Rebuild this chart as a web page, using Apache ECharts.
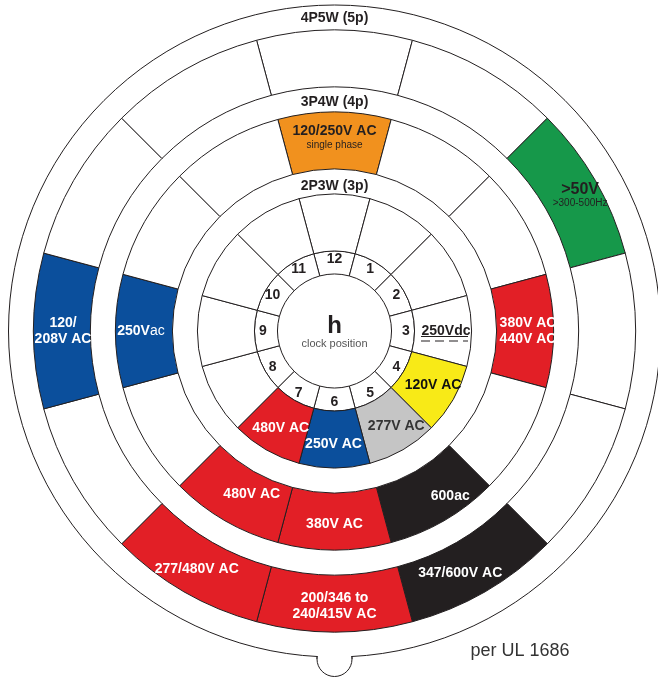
<!DOCTYPE html>
<html>
<head>
<meta charset="utf-8">
<script src="https://cdn.jsdelivr.net/npm/echarts@6/dist/echarts.min.js"></script>
<style>
html, body { margin: 0; padding: 0; background: #fff; }
#chart { width: 658px; height: 677px; }
</style>
</head>
<body>
<div id="chart"></div>
<script>
// clock positions, 12 o'clock first, going clockwise
var clockPositions = ['12', '1', '2', '3', '4', '5', '6', '7', '8', '9', '10', '11'];
var sectorShare = [1, 1, 1, 1, 1, 1, 1, 1, 1, 1, 1, 1];

// 2P3W (3p)
var ring2P3W = ['', '', '', '250Vdc', '120V AC', '277V AC', '250V AC', '480V AC', '', '', '', ''];
var ring2P3WClass = ['none', 'none', 'none', 'none', 'v120', 'v277', 'v250', 'v480', 'none', 'none', 'none', 'none'];

// 3P4W (4p)
var ring3P4W = ['120/250V AC\nsingle phase', '', '', '380V AC\n440V AC', '', '600ac', '380V AC', '480V AC', '', '250Vac', '', ''];
var ring3P4WClass = ['split', 'none', 'none', 'v480', 'none', 'v600', 'v480', 'v480', 'none', 'v250', 'none', 'none'];

// 4P5W (5p)
var ring4P5W = ['', '', '>50V\n>300-500Hz', '', '', '347/600V AC', '200/346 to\n240/415V AC', '277/480V AC', '', '120/\n208V AC', '', ''];
var ring4P5WClass = ['none', 'none', 'hf', 'none', 'none', 'v600', 'v480', 'v480', 'none', 'v250', 'none', 'none'];

var ringTitles = ['2P3W (3p)', '3P4W (4p)', '4P5W (5p)'];

var fill = {
    none: '#ffffff',
    v120: '#f8ea17',
    v250: '#0b4f9c',
    v277: '#c5c5c5',
    v480: '#e21f26',
    v600: '#231f20',
    split: '#f1911e',
    hf: '#16984a'
};
var ink = {
    none: '#231f20',
    v120: '#111111',
    v250: '#ffffff',
    v277: '#333333',
    v480: '#ffffff',
    v600: '#ffffff',
    split: '#231f20',
    hf: '#231f20'
};

// small label nudges (px) off the sector centre, [dx, dy]
var nudge = {
    '2P3W': { 4: [2, -2], 5: [6, -1], 6: [-1, 2], 7: [2, 1] },
    '3P4W': { 5: [19, -2], 7: [14, -4] },
    '4P5W': { 2: [7, 2], 5: [-12, 4], 9: [4, 0] }
};

var cx = 334.5, cy = 331;
var line = '#231f20';
var font = "'Liberation Sans', Arial, sans-serif";

function labelText(p) {
    var t = p.name;
    if (t === '250Vac') return '{b|250V}{n|ac}';
    var parts = t.split('\n');
    if (p.data.kind === 'split') return '{b|' + parts[0] + '}\n{s|' + parts[1] + '}';
    if (p.data.kind === 'hf') return '{big|' + parts[0] + '}\n{s|' + parts[1] + '}';
    return t;
}

function shiftPad(d) {
    if (!d) return 0;
    var dx = d[0], dy = d[1];
    return [Math.max(0, 2 * dy), Math.max(0, -2 * dx), Math.max(0, -2 * dy), Math.max(0, 2 * dx)];
}

function ring(name, r0, r1, labels, classes) {
    var shifts = nudge[name] || {};
    return {
        type: 'pie',
        name: name,
        center: [cx, cy],
        radius: [r0, r1],
        startAngle: 105,
        clockwise: true,
        silent: true,
        animation: false,
        avoidLabelOverlap: false,
        labelLayout: { hideOverlap: false },
        z: 5,
        itemStyle: { borderColor: line, borderWidth: 1 },
        labelLine: { show: false },
        label: {
            position: 'inside',
            formatter: labelText,
            fontFamily: font,
            fontWeight: 'bold',
            fontSize: 14,
            lineHeight: 16,
            rich: {
                b: { fontFamily: font, fontWeight: 'bold', fontSize: 14, lineHeight: 15 },
                n: { fontFamily: font, fontWeight: 'normal', fontSize: 14 },
                big: { fontFamily: font, fontWeight: 'bold', fontSize: 16, lineHeight: 16 },
                s: { fontFamily: font, fontWeight: 'normal', fontSize: 10, lineHeight: 12 }
            }
        },
        data: labels.map(function (t, i) {
            var k = classes ? classes[i] : 'none';
            return {
                value: sectorShare[i],
                name: t,
                kind: k,
                itemStyle: { color: fill[k] },
                label: { color: ink[k], padding: shiftPad(shifts[i]) }
            };
        })
    };
}

function txt(s, x, y, size, weight, color) {
    return {
        type: 'text', x: x, y: y, z: 20,
        style: {
            text: s, fill: color || line,
            font: (weight || 'bold') + ' ' + size + 'px ' + font,
            align: 'center', verticalAlign: 'middle',
            textAlign: 'center', textVerticalAlign: 'middle'
        }
    };
}

var chart = echarts.init(document.getElementById('chart'));
chart.setOption({
    backgroundColor: '#ffffff',
    animation: false,
    series: [
        ring('clock', 57, 80, clockPositions, null),
        ring('2P3W', 80, 137, ring2P3W, ring2P3WClass),
        ring('3P4W', 162, 219, ring3P4W, ring3P4WClass),
        ring('4P5W', 244, 301, ring4P5W, ring4P5WClass)
    ],
    graphic: [
        // key tab at the bottom
        { type: 'circle', z: -12, shape: { cx: cx, cy: 659, r: 17.5 }, style: { fill: '#fff', stroke: line, lineWidth: 1 } },
        // outer rim
        { type: 'circle', z: -10, shape: { cx: cx, cy: cy, r: 326 }, style: { fill: '#fff', stroke: line, lineWidth: 1 } },
        { type: 'rect', z: -9, shape: { x: cx - 16.8, y: 649, width: 33.6, height: 10 }, style: { fill: '#fff' } },
        { type: 'line', z: -8, shape: { x1: cx - 17.5, y1: 656, x2: cx - 17.5, y2: 659 }, style: { stroke: line, lineWidth: 1 } },
        { type: 'line', z: -8, shape: { x1: cx + 17.5, y1: 656, x2: cx + 17.5, y2: 659 }, style: { stroke: line, lineWidth: 1 } },
        // centre
        txt('h', cx, 326, 24, 'bold', '#231f20'),
        txt('clock position', cx, 344, 11, 'normal', '#555555'),
        // ring titles
        txt(ringTitles[0], cx, 186, 14, 'bold'),
        txt(ringTitles[1], cx, 102, 14, 'bold'),
        txt(ringTitles[2], cx, 18, 14, 'bold'),
        // dc symbol under 250Vdc
        { type: 'line', z: 20, shape: { x1: 421, y1: 336.5, x2: 468, y2: 336.5 }, style: { stroke: line, lineWidth: 1.2 } },
        { type: 'line', z: 20, shape: { x1: 421, y1: 341, x2: 468, y2: 341 }, style: { stroke: line, lineWidth: 1.2, lineDash: [9, 5] } },
        txt('per UL 1686', 520, 651, 18, 'normal', '#333333')
    ]
});
</script>
</body>
</html>
